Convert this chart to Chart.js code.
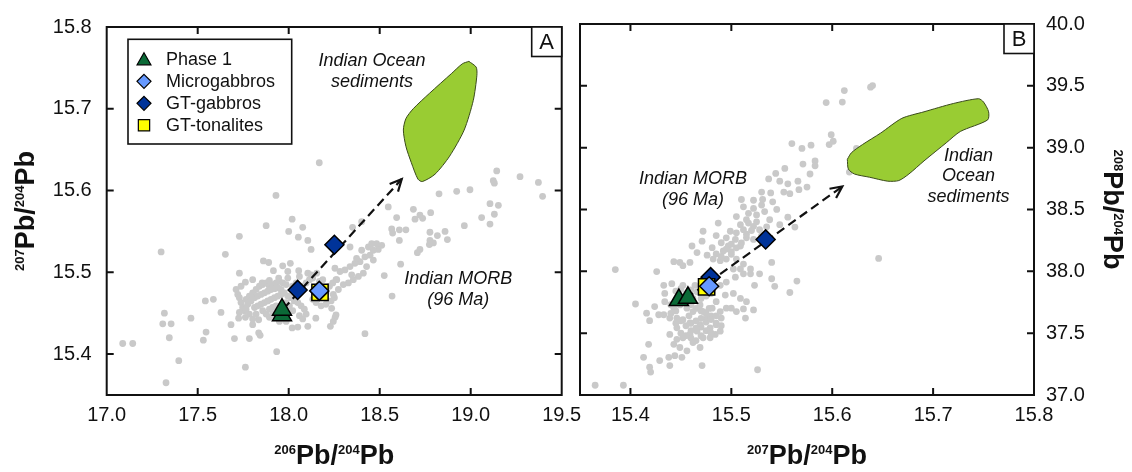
<!DOCTYPE html>
<html><head><meta charset="utf-8">
<script src="https://cdn.jsdelivr.net/npm/chart.js@4.4.0/dist/chart.umd.min.js"></script>
<style>
html,body{margin:0;padding:0;background:#fff;}
#wrap{position:relative;width:1132px;height:472px;background:#fff;}
canvas{position:absolute;left:0;top:0;}
</style></head><body>
<div id="wrap"><canvas id="cA" width="1132" height="472"></canvas><canvas id="cB" width="1132" height="472"></canvas></div>
<script>
// ---------- DATA ----------
const xTicksA = [17.0, 17.5, 18.0, 18.5, 19.0, 19.5];
const yTicksA = [15.4, 15.5, 15.6, 15.7, 15.8];
const xTicksB = [15.4, 15.5, 15.6, 15.7, 15.8];
const yTicksB = [37.0, 37.5, 38.0, 38.5, 39.0, 39.5, 40.0];

const legendLabels = ['Phase 1', 'Microgabbros', 'GT-gabbros', 'GT-tonalites'];

// Panel A: 206Pb/204Pb vs 207Pb/204Pb
const phase1A = [[17.963, 15.4476], [17.963, 15.4543]];
const microA = [[18.168, 15.4773]];
const gtGabA = [[18.049, 15.4785], [18.251, 15.5337]];
const gtTonA = [[18.172, 15.4754]];
const arrowA = [[17.97, 15.455], [18.621, 15.614]];
const sedA = [[18.99,15.758],[19.03,15.751],[19.034,15.741],[19.014,15.71],[18.964,15.674],[18.884,15.642],[18.804,15.62],[18.734,15.611],[18.71,15.614],[18.674,15.634],[18.644,15.654],[18.63,15.674],[18.644,15.688],[18.684,15.70],[18.774,15.719],[18.894,15.743],[18.954,15.755],[18.99,15.758]];
const morbA = [
[17.930,15.594],[18.019,15.565],[17.876,15.557],[18.077,15.555],[18.000,15.550],[17.729,15.544],[18.053,15.543],[18.105,15.539],[17.299,15.525],[17.652,15.522],
[18.123,15.528],[17.861,15.514],[17.890,15.512],[17.967,15.508],[18.009,15.511],[17.916,15.502],[17.995,15.501],[17.729,15.499],[18.055,15.502],[18.105,15.499],
[18.123,15.497],[18.154,15.499],[17.802,15.491],[17.762,15.488],[17.854,15.487],[17.894,15.490],[17.945,15.493],[17.995,15.493],[18.059,15.495],[17.542,15.465],
[17.586,15.467],[17.628,15.451],[17.317,15.450],[17.308,15.437],[17.354,15.437],[17.463,15.444],[17.344,15.420],[17.546,15.427],[17.531,15.417],[17.683,15.436],
[17.725,15.444],[17.762,15.445],[17.702,15.419],[17.784,15.419],[17.802,15.436],[17.835,15.442],[17.835,15.426],[17.843,15.423],[17.934,15.403],[17.088,15.413],
[17.143,15.413],[17.396,15.392],[17.762,15.384],[17.326,15.365],[18.105,15.434],[18.149,15.444],[18.229,15.434],[18.255,15.445],[18.019,15.432],[18.050,15.433],
[17.711,15.479],[17.720,15.473],[17.729,15.469],[17.738,15.463],[17.747,15.457],[17.757,15.453],[17.766,15.467],[17.784,15.471],[17.802,15.475],[17.821,15.479],
[17.839,15.483],[17.857,15.485],[17.876,15.487],[17.894,15.483],[17.912,15.485],[17.931,15.487],[17.949,15.489],[17.967,15.487],[17.986,15.485],[17.775,15.461],
[17.793,15.465],[17.812,15.469],[17.830,15.471],[17.848,15.473],[17.867,15.475],[17.885,15.477],[17.903,15.479],[17.922,15.480],[17.940,15.481],[17.958,15.479],
[17.812,15.457],[17.830,15.459],[17.848,15.461],[17.867,15.463],[17.885,15.465],[17.903,15.467],[17.922,15.469],[17.940,15.471],[17.958,15.473],[17.976,15.475],
[17.995,15.471],[18.013,15.469],[18.031,15.465],[18.050,15.463],[18.068,15.459],[18.086,15.455],[18.096,15.449],[18.059,15.447],[18.077,15.443],[18.022,15.453],
[18.004,15.459],[17.986,15.463],[18.132,15.467],[18.150,15.463],[18.178,15.459],[18.205,15.461],[18.233,15.465],[18.251,15.469],[18.205,15.475],[18.224,15.483],
[18.242,15.487],[18.260,15.491],[18.187,15.491],[18.169,15.489],[18.096,15.487],[18.114,15.491],[18.132,15.493],[18.077,15.483],[18.041,15.487],[18.022,15.483],
[17.857,15.453],[17.876,15.449],[17.894,15.455],[17.912,15.457],[17.931,15.459],[17.949,15.440],[17.986,15.440],[17.894,15.445],[17.912,15.449],[17.821,15.449],
[17.802,15.443],[17.784,15.449],[17.766,15.455],[17.729,15.451],[17.738,15.483],
[19.143,15.624],[19.124,15.612],[19.130,15.609],[19.271,15.617],[19.372,15.610],[19.395,15.593],[18.996,15.601],[18.923,15.599],[18.826,15.596],[18.547,15.580],
[18.685,15.577],[18.694,15.565],[18.721,15.570],[18.736,15.566],[18.780,15.573],[18.593,15.567],[18.401,15.562],[18.351,15.555],[18.566,15.553],[18.571,15.548],
[18.608,15.552],[18.644,15.552],[18.608,15.539],[18.776,15.549],[18.817,15.545],[18.859,15.550],[18.872,15.540],[18.776,15.539],[18.773,15.534],[18.795,15.536],
[18.721,15.528],[18.707,15.524],[18.965,15.557],[19.060,15.567],[19.106,15.584],[19.152,15.582],[19.130,15.571],[19.106,15.559],[18.511,15.533],[18.492,15.528],
[18.465,15.527],[18.438,15.531],[18.447,15.521],[18.419,15.519],[18.392,15.513],[18.364,15.511],[18.337,15.507],[18.309,15.503],[18.282,15.501],[18.254,15.505],
[18.465,15.515],[18.428,15.507],[18.410,15.499],[18.383,15.495],[18.355,15.491],[18.328,15.487],[18.300,15.485],[18.273,15.479],[18.245,15.473],[18.615,15.510],
[18.525,15.496],[18.568,15.471],[18.419,15.425],[18.260,15.448],[18.245,15.440],[18.337,15.531],[18.401,15.527],[18.373,15.517],[18.346,15.497],[18.483,15.535],
[18.456,15.535],[18.264,15.491],[18.236,15.456],[18.168,15.634]
];

// Panel B: 207Pb/204Pb vs 208Pb/204Pb
const phase1B = [[15.448, 37.768], [15.457, 37.786]];
const microB = [[15.478, 37.879]];
const gtGabB = [[15.4795, 37.953], [15.534, 38.258]];
const gtTonB = [[15.4755, 37.874]];
const arrowB = [[15.455, 37.78], [15.610, 38.686]];
const sedB = [[15.615,38.906],[15.619,38.959],[15.630,39.025],[15.648,39.118],[15.669,39.237],[15.691,39.290],[15.720,39.357],[15.745,39.396],[15.750,39.369],[15.755,39.290],[15.754,39.224],[15.727,39.131],[15.713,39.039],[15.691,38.893],[15.676,38.787],[15.666,38.734],[15.655,38.729],[15.637,38.761],[15.622,38.787],[15.616,38.827],[15.615,38.906]];
const morbB = [
[15.560,39.033],[15.570,38.994],[15.571,38.867],[15.553,38.832],[15.578,38.787],[15.544,38.792],[15.537,38.747],[15.548,38.729],[15.556,38.708],[15.566,38.729],
[15.567,38.660],[15.575,38.681],[15.530,38.641],[15.539,38.634],[15.552,38.641],[15.558,38.628],[15.510,38.581],[15.531,38.581],[15.541,38.562],[15.530,38.536],
[15.522,38.509],[15.517,38.469],[15.525,38.456],[15.533,38.483],[15.545,38.501],[15.556,38.438],[15.563,38.358],[15.538,38.417],[15.548,38.377],[15.515,38.417],
[15.509,38.377],[15.522,38.364],[15.528,38.337],[15.512,38.337],[15.505,38.311],[15.499,38.324],[15.485,38.289],[15.495,38.271],[15.504,38.258],[15.515,38.271],
[15.522,38.258],[15.490,38.231],[15.497,38.205],[15.509,38.205],[15.472,38.324],[15.461,38.205],[15.466,38.152],[15.476,38.131],[15.482,38.099],[15.489,38.086],
[15.495,38.099],[15.505,38.099],[15.512,38.059],[15.519,38.019],[15.459,38.072],[15.452,38.046],[15.443,38.078],[15.449,38.072],[15.426,37.998],[15.385,38.014],
[15.441,37.900],[15.452,37.887],[15.464,37.887],[15.433,37.887],[15.434,37.821],[15.424,37.715],[15.405,37.736],[15.419,37.601],[15.433,37.649],[15.439,37.622],
[15.446,37.622],[15.452,37.609],[15.459,37.583],[15.469,37.569],[15.479,37.543],[15.485,37.569],[15.490,37.622],[15.495,37.702],[15.502,37.821],[15.494,37.808],
[15.500,37.702],[15.505,37.675],[15.512,37.696],[15.522,37.688],[15.514,37.622],[15.509,37.781],[15.515,37.755],[15.523,37.887],[15.540,38.072],[15.543,37.879],
[15.565,37.921],[15.558,37.829],[15.540,37.940],[15.528,37.980],[15.519,37.980],[15.512,37.980],[15.504,37.953],[15.449,37.728],[15.456,37.702],[15.462,37.675],
[15.469,37.728],[15.472,37.675],[15.476,37.622],[15.466,37.516],[15.459,37.490],[15.452,37.463],[15.446,37.450],[15.443,37.410],[15.449,37.384],[15.456,37.357],
[15.462,37.424],[15.469,37.384],[15.472,37.463],[15.479,37.463],[15.484,37.490],[15.489,37.516],[15.451,37.305],[15.444,37.318],[15.438,37.305],[15.429,37.278],
[15.418,37.410],[15.413,37.305],[15.419,37.225],[15.420,37.185],[15.439,37.238],[15.471,37.238],[15.526,37.204],[15.365,37.079],[15.393,37.079],[15.446,37.543],
[15.439,37.490],[15.462,37.781],[15.466,37.834],[15.481,37.702],[15.485,37.755],[15.489,37.675],[15.449,37.781],[15.443,37.702],[15.434,37.755],[15.428,37.649],
[15.416,37.662],[15.481,37.861],[15.489,37.887],[15.495,37.913],[15.502,38.019],[15.509,38.019],[15.500,38.138],[15.492,38.165],[15.481,38.191],[15.471,38.244],
[15.487,38.390],[15.505,38.443],[15.522,38.575],[15.512,38.522],
[15.638,39.489],[15.640,39.502],[15.612,39.462],[15.610,39.369],[15.594,39.365],[15.599,39.105],[15.601,39.052],[15.597,39.025],[15.579,39.020],[15.583,38.893],
[15.583,38.853],[15.624,38.994],[15.617,38.803],[15.646,38.104],
[15.455,37.75],[15.46,37.73],[15.465,37.70],[15.47,37.68],[15.475,37.66],[15.48,37.64],[15.47,37.62],[15.465,37.60],[15.46,37.58],[15.455,37.56],
[15.475,37.59],[15.48,37.61],[15.485,37.64],[15.47,37.55],[15.465,37.54],[15.46,37.52],[15.475,37.52],[15.48,37.50],[15.47,37.48],[15.46,37.46],
[15.465,37.44],[15.45,37.50],[15.455,37.48],[15.445,37.58],[15.45,37.60],[15.44,37.66],[15.445,37.68],[15.44,37.73],[15.445,37.75],[15.458,37.64],
[15.485,37.58],[15.49,37.56],[15.478,37.70],[15.47,37.78],[15.475,37.80],[15.48,37.82],[15.455,37.82],[15.46,37.85],[15.47,37.84],[15.445,37.84],
[15.45,37.86],[15.49,38.12],[15.50,38.16],[15.505,38.19],[15.51,38.23],[15.515,38.30],[15.52,38.33],[15.525,38.40],[15.50,38.22],[15.495,38.18],
[15.485,38.14],[15.53,38.29],[15.535,38.36],[15.517,38.39]
];

// ---------- STYLE / LAYOUT ----------
const FONT = "'Liberation Sans', Arial, Helvetica, sans-serif";
const C = {gray:'#c9c9c9', sed:'#99cc33', sedLine:'#3a4a1c', phase1:'#0b6a37', micro:'#6699ff', gtGab:'#003399', gtTon:'#ffff00', ink:'#111'};
const TL = 7;
const toXY = arr => arr.map(p => ({x: p[0], y: p[1]}));

function markerPath(ctx, style, x, y, r) {
  ctx.beginPath();
  if (style === 'triangle') {
    for (let i = 0; i < 3; i++) {
      const a = -Math.PI / 2 + i * 2 * Math.PI / 3;
      const px = x + r * Math.cos(a), py = y + r * Math.sin(a);
      i ? ctx.lineTo(px, py) : ctx.moveTo(px, py);
    }
  } else if (style === 'rectRot') {
    ctx.moveTo(x, y - r); ctx.lineTo(x + r, y); ctx.lineTo(x, y + r); ctx.lineTo(x - r, y);
  } else {
    const s = Math.SQRT1_2 * r; ctx.rect(x - s, y - s, 2 * s, 2 * s);
  }
  ctx.closePath();
}

function supTitle(ctx, parts, x, y, rot) {
  const big = 'bold 27px ' + FONT, small = 'bold 13px ' + FONT;
  ctx.save();
  ctx.translate(x, y); ctx.rotate(rot);
  ctx.fillStyle = C.ink; ctx.textBaseline = 'alphabetic'; ctx.textAlign = 'left';
  let w = 0;
  parts.forEach(p => { ctx.font = p.sup ? small : big; w += ctx.measureText(p.t).width; });
  let cx = -w / 2;
  parts.forEach(p => {
    ctx.font = p.sup ? small : big;
    ctx.fillText(p.t, cx, p.sup ? -10 : 0);
    cx += ctx.measureText(p.t).width;
  });
  ctx.restore();
}

function makeDecor(cfg) {
  return {
    id: 'decor' + cfg.name,
    afterDatasetsDraw(chart) {
      const {ctx, chartArea: a} = chart;
      const xs = chart.scales.x, ys = chart.scales.y;
      ctx.save();
      // arrow head
      const ar = cfg.arrow;
      const x0 = xs.getPixelForValue(ar[0][0]), y0 = ys.getPixelForValue(ar[0][1]);
      const x1 = xs.getPixelForValue(ar[1][0]), y1 = ys.getPixelForValue(ar[1][1]);
      const ang = Math.atan2(y1 - y0, x1 - x0), L = 13, w = 0.45;
      ctx.strokeStyle = C.ink; ctx.lineWidth = 2.2; ctx.setLineDash([]);
      ctx.lineJoin = 'miter';
      ctx.beginPath();
      ctx.moveTo(x1 - L * Math.cos(ang - w), y1 - L * Math.sin(ang - w));
      ctx.lineTo(x1, y1);
      ctx.lineTo(x1 - L * Math.cos(ang + w), y1 - L * Math.sin(ang + w));
      ctx.stroke();
      // annotations
      ctx.fillStyle = C.ink; ctx.textAlign = 'center'; ctx.textBaseline = 'middle';
      ctx.font = 'italic 18px ' + FONT;
      cfg.notes.forEach(n => {
        const px = xs.getPixelForValue(n.x), py = ys.getPixelForValue(n.y);
        n.lines.forEach((t, i) => ctx.fillText(t, px, py + (i - (n.lines.length - 1) / 2) * n.lh));
      });
      // frame and inward ticks
      ctx.lineWidth = 2; ctx.strokeStyle = C.ink;
      ctx.beginPath();
      xs.ticks.forEach(t => {
        const p = xs.getPixelForValue(t.value);
        if (p > a.left + 2 && p < a.right - 2) {
          ctx.moveTo(p, a.bottom); ctx.lineTo(p, a.bottom - TL);
          ctx.moveTo(p, a.top); ctx.lineTo(p, a.top + TL);
        }
      });
      ys.ticks.forEach(t => {
        const p = ys.getPixelForValue(t.value);
        if (p > a.top + 2 && p < a.bottom - 2) {
          ctx.moveTo(a.left, p); ctx.lineTo(a.left + TL, p);
          ctx.moveTo(a.right, p); ctx.lineTo(a.right - TL, p);
        }
      });
      ctx.stroke();
      ctx.strokeRect(a.left, a.top, a.right - a.left, a.bottom - a.top);
      // panel letter box
      const bw = 30, bh = 29.5;
      ctx.fillStyle = '#fff';
      ctx.fillRect(a.right - bw, a.top, bw, bh);
      ctx.lineWidth = 1.6;
      ctx.strokeRect(a.right - bw, a.top, bw, bh);
      ctx.fillStyle = C.ink; ctx.font = '22px ' + FONT; ctx.textAlign = 'center'; ctx.textBaseline = 'middle';
      ctx.fillText(cfg.letter, a.right - bw / 2, a.top + bh / 2 + 1);
      // legend
      if (cfg.legend) {
        const lx = 128, ly = 39.3, lw = 163.7, lh = 104.7;
        ctx.fillStyle = '#fff'; ctx.fillRect(lx, ly, lw, lh);
        ctx.lineWidth = 1.6; ctx.strokeStyle = C.ink; ctx.strokeRect(lx, ly, lw, lh);
        const items = [
          {style:'triangle', r:8, fill:C.phase1},
          {style:'rectRot', r:7, fill:C.micro},
          {style:'rectRot', r:7, fill:C.gtGab},
          {style:'rect', r:8, fill:C.gtTon}
        ];
        items.forEach((it, i) => {
          const y = ly + 20 + i * 22;
          markerPath(ctx, it.style, lx + 16, y + (it.style === 'triangle' ? 1.5 : 0), it.r);
          ctx.fillStyle = it.fill; ctx.fill();
          ctx.lineWidth = 1.2; ctx.strokeStyle = '#000'; ctx.stroke();
          ctx.fillStyle = C.ink; ctx.font = '18px ' + FONT; ctx.textAlign = 'left'; ctx.textBaseline = 'middle';
          ctx.fillText(legendLabels[i], lx + 38, y + 1);
        });
      }
      ctx.restore();
    },
    afterDraw(chart) {
      const ctx = chart.ctx, a = chart.chartArea;
      const cxm = (a.left + a.right) / 2, cym = (a.top + a.bottom) / 2;
      supTitle(ctx, cfg.xTitle, cxm, 464, 0);
      if (cfg.name === 'A') supTitle(ctx, cfg.yTitle, 34, cym, -Math.PI / 2);
      else supTitle(ctx, cfg.yTitle, 1104, cym, Math.PI / 2);
    }
  };
}

function datasets(morb, sed, arrow, ph, gab, ton, mic) {
  return [
    {data: toXY(morb), pointRadius: 3.4, pointBackgroundColor: C.gray, pointBorderWidth: 0, order: 10},
    {data: toXY(sed), showLine: true, fill: 'shape', backgroundColor: C.sed, borderColor: C.sedLine, borderWidth: 1, pointRadius: 0, tension: 0.25, order: 9},
    {data: toXY(arrow), showLine: true, fill: false, borderColor: C.ink, borderWidth: 2.2, borderDash: [9, 5], pointRadius: 0, order: 8},
    {data: toXY(ph), pointStyle: 'triangle', pointRadius: 11, pointBackgroundColor: C.phase1, pointBorderColor: '#000', pointBorderWidth: 1.5, order: 4},
    {data: toXY(gab), pointStyle: 'rectRot', pointRadius: 9.5, pointBackgroundColor: C.gtGab, pointBorderColor: '#000', pointBorderWidth: 1.5, order: 3},
    {data: toXY(ton), pointStyle: 'rect', pointRadius: 11.5, pointBackgroundColor: C.gtTon, pointBorderColor: '#000', pointBorderWidth: 1.5, order: 2},
    {data: toXY(mic), pointStyle: 'rectRot', pointRadius: 9.5, pointBackgroundColor: C.micro, pointBorderColor: '#000', pointBorderWidth: 1.5, order: 1}
  ];
}

function axis(min, max, tickArr, fit, pos, pad) {
  return {
    type: 'linear', position: pos, min: min, max: max,
    afterBuildTicks: s => { s.ticks = tickArr.map(v => ({value: v})); },
    afterFit: fit,
    grid: {display: false, drawTicks: false}, border: {display: false},
    ticks: {font: {family: FONT, size: 20}, color: C.ink, padding: pad, maxRotation: 0, autoSkip: false, callback: v => Number(v).toFixed(1)}
  };
}

const base = {responsive: false, animation: false, devicePixelRatio: 1, events: [],
  plugins: {legend: {display: false}, tooltip: {enabled: false}}};

new Chart(document.getElementById('cA'), {
  type: 'scatter',
  data: {datasets: datasets(morbA, sedA, arrowA, phase1A, gtGabA, gtTonA, microA)},
  options: Object.assign({}, base, {
    layout: {padding: {left: 0, top: 17.3, right: 570.3, bottom: 0}},
    scales: {
      x: axis(17.0, 19.5, xTicksA, s => { s.height = 77; }, 'bottom', 8),
      y: axis(15.35, 15.8, yTicksA, s => { s.width = 106.7; }, 'left', 15)
    }
  }),
  plugins: [makeDecor({name: 'A', letter: 'A', arrow: arrowA, legend: true,
    notes: [{x: 18.458, y: 15.745, lh: 21, lines: ['Indian Ocean', 'sediments']},
            {x: 18.932, y: 15.479, lh: 21, lines: ['Indian MORB', '(96 Ma)']}],
    xTitle: [{t:'206',sup:true},{t:'Pb/'},{t:'204',sup:true},{t:'Pb'}],
    yTitle: [{t:'207',sup:true},{t:'Pb/'},{t:'204',sup:true},{t:'Pb'}]})]
});

new Chart(document.getElementById('cB'), {
  type: 'scatter',
  data: {datasets: datasets(morbB, sedB, arrowB, phase1B, gtGabB, gtTonB, microB)},
  options: Object.assign({}, base, {
    layout: {padding: {left: 580, top: 17.3, right: 0, bottom: 0}},
    scales: {
      x: axis(15.35, 15.8, xTicksB, s => { s.height = 77; }, 'bottom', 8),
      y: axis(37.0, 40.0, yTicksB, s => { s.width = 98; }, 'right', 12)
    }
  }),
  plugins: [makeDecor({name: 'B', letter: 'B', arrow: arrowB, legend: false,
    notes: [{x: 15.462, y: 38.66, lh: 21, lines: ['Indian MORB', '(96 Ma)']},
            {x: 15.735, y: 38.769, lh: 20.5, lines: ['Indian', 'Ocean', 'sediments']}],
    xTitle: [{t:'207',sup:true},{t:'Pb/'},{t:'204',sup:true},{t:'Pb'}],
    yTitle: [{t:'208',sup:true},{t:'Pb/'},{t:'204',sup:true},{t:'Pb'}]})]
});
</script>
</body></html>
